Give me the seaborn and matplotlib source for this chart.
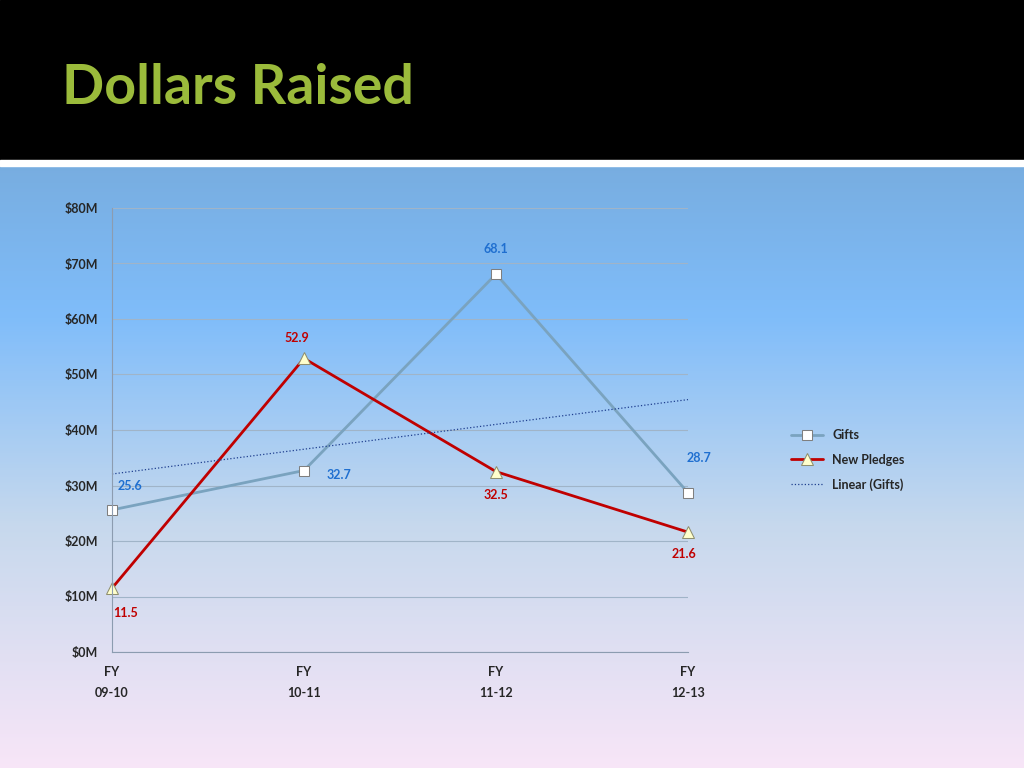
import numpy as np
import pandas as pd
import matplotlib
matplotlib.use("Agg")
import matplotlib.pyplot as plt
import seaborn as sns
from matplotlib.colors import LinearSegmentedColormap

years = ["FY\n09-10", "FY\n10-11", "FY\n11-12", "FY\n12-13"]
gifts = [25.6, 32.7, 68.1, 28.7]
pledges = [11.5, 52.9, 32.5, 21.6]
yticks = [0, 10, 20, 30, 40, 50, 60, 70, 80]

sns.set_style("white")
plt.rcParams['font.family'] = ['Lato', 'DejaVu Sans']

W, H = 1024, 768
fig = plt.figure(figsize=(W/100, H/100), dpi=100)

# background gradient
bg = fig.add_axes([0, 0, 1, 1])
bg.set_axis_off()
cmap = LinearSegmentedColormap.from_list("bg", [
    (0.0, (0.47, 0.68, 0.88)), (0.25, (0.50, 0.74, 0.98)),
    (0.6, (0.78, 0.85, 0.93)), (1.0, (0.97, 0.90, 0.97))])
grad = np.linspace(0, 1, 300).reshape(-1, 1)
bg.imshow(grad, aspect='auto', cmap=cmap, extent=[0, 1, 0, (768-165)/768])
bg.add_patch(plt.Rectangle((0, (768-160)/768), 1, 160/768, color='black'))
bg.add_patch(plt.Rectangle((0, (768-166)/768), 1, 6/768, color='white'))
bg.set_xlim(0, 1); bg.set_ylim(0, 1)
fig.text(62/W, 1-88/H, "Dollars Raised", color='#9bbb3b', fontsize=40,
         fontweight='bold', va='center', ha='left')

ax = fig.add_axes([112/W, 1-652/H, (688-112)/W, (652-208)/H])
ax.patch.set_alpha(0)
x = np.arange(len(years))
df = pd.DataFrame({"x": x, "Gifts": gifts, "New Pledges": pledges})

sns.lineplot(data=df, x="x", y="Gifts", ax=ax, color='#7aa3bf', lw=2,
             marker='s', markersize=7, markerfacecolor='white',
             markeredgecolor='#7f7f7f', label='Gifts')
sns.lineplot(data=df, x="x", y="New Pledges", ax=ax, color='#c00000', lw=2,
             marker='^', markersize=9, markerfacecolor='#ffffcc',
             markeredgecolor='#8f8f6f', label='New Pledges')
m, b = np.polyfit(x, gifts, 1)
ax.plot(x, m*x+b, ls=':', color='#1f3f8f', lw=0.9, label='Linear (Gifts)')

goff = [(0, 15), (20, -3), (0, 18), (-8, 24)]
for i, v in enumerate(gifts):
    dx, dy = [(13, 17), (25, -3), (0, 18), (8, 25)][i]
    ax.annotate(f"{v}", (x[i], v), xytext=(dx, dy), textcoords='offset points',
                ha='center', va='center', color='#1f6fd0', fontsize=9, fontweight='bold')
for i, v in enumerate(pledges):
    dx, dy = [(10, -18), (-5, 15), (0, -17), (-3, -16)][i]
    ax.annotate(f"{v}", (x[i], v), xytext=(dx, dy), textcoords='offset points',
                ha='center', va='center', color='#c00000', fontsize=9, fontweight='bold')

ax.set_xlim(0, 3)
ax.set_ylim(0, 80)
ax.set_yticks(yticks)
ax.set_yticklabels([f"${t}M" for t in yticks], fontsize=9, fontweight='bold')
ax.set_xticks(x)
ax.set_xticklabels(years, fontsize=9, fontweight='bold', linespacing=1.9)
ax.set_xlabel(""); ax.set_ylabel("")
ax.grid(axis='y', color='#a0b4c8', lw=0.8)
for s in ['top', 'right']:
    ax.spines[s].set_visible(False)
for s in ['left', 'bottom']:
    ax.spines[s].set_color('#8c9cb0')
ax.tick_params(axis='both', length=4, color='#8c9cb0', pad=6)
ax.set_clip_on(False)
for l in ax.lines:
    l.set_clip_on(False)

leg = ax.legend(loc='upper left', bbox_to_anchor=(780/W, 1-418/H),
                bbox_transform=fig.transFigure, frameon=False, fontsize=9,
                labelspacing=1.0, handlelength=2.5)
for t in leg.get_texts():
    t.set_fontweight('bold')

fig.savefig("out.png", dpi=100)
